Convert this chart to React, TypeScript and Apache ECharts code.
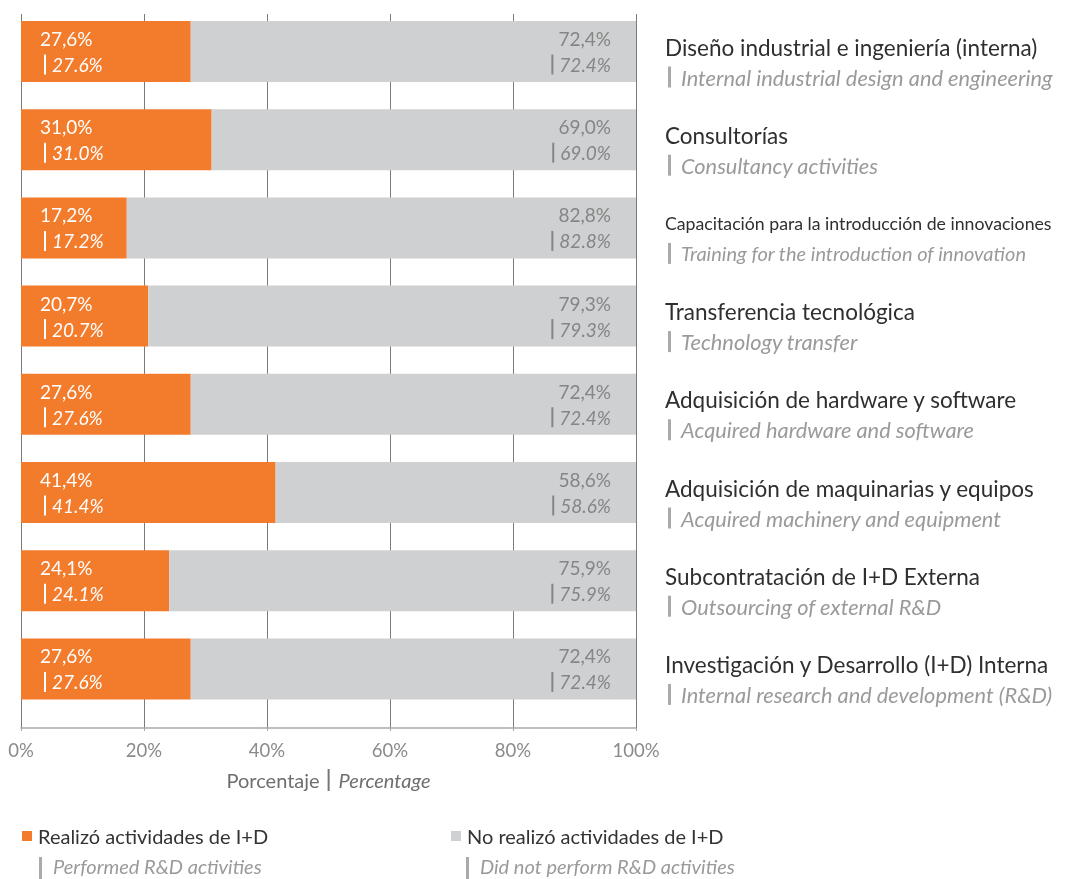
import React, { useEffect, useRef } from "react";
import * as echarts from "echarts";

const categoriesEs = [
  "Diseño industrial e ingeniería (interna)",
  "Consultorías",
  "Capacitación para la introducción de innovaciones",
  "Transferencia tecnológica",
  "Adquisición de hardware y software",
  "Adquisición de maquinarias y equipos",
  "Subcontratación de I+D Externa",
  "Investigación y Desarrollo (I+D) Interna",
];
const categoriesEn = [
  "Internal industrial design and engineering",
  "Consultancy activities",
  "Training for the introduction of innovation",
  "Technology transfer",
  "Acquired hardware and software",
  "Acquired machinery and equipment",
  "Outsourcing of external R&D",
  "Internal research and development (R&D)",
];
const performed = [27.6, 31.0, 17.2, 20.7, 27.6, 41.4, 24.1, 27.6];
const notPerformed = [72.4, 69.0, 82.8, 79.3, 72.4, 58.6, 75.9, 72.4];
const xTicks = [0, 20, 40, 60, 80, 100];
const seriesEs = ["Realizó actividades de I+D", "No realizó actividades de I+D"];
const seriesEn = ["Performed R&D activities", "Did not perform R&D activities"];

const FONT = "Lato";
const ORANGE = "#F37B2C";
const GRAY = "#CFD0D2";

const es = (v: number) => v.toFixed(1).replace(".", ",") + "%";
const en = (v: number) => v.toFixed(1) + "%";

export default function App() {
  const ref = useRef<HTMLDivElement>(null);
  useEffect(() => {
    if (!ref.current) return;
    document.body.style.margin = "0";
    document.body.style.overflow = "hidden";
    const chart = echarts.init(ref.current, undefined, { renderer: "svg" });
    const catKeys = categoriesEs.map((_, i) => String(i));
    const legendBase = {
      top: 826,
      padding: 0,
      itemWidth: 10,
      itemHeight: 10,
      itemGap: 7,
      icon: "rect",
      textStyle: { fontSize: 20, color: "#333", fontFamily: FONT, padding: [0, 0, 0, 1] },
    };
    chart.setOption({
      animation: false,
      textStyle: { fontFamily: FONT },
      grid: [
        { left: 21, right: 431, top: 14, bottom: 151 },
        { left: 21, right: 431, top: 7.4, bottom: 166 },
      ],
      xAxis: [
        {
          gridIndex: 0,
          type: "value",
          min: xTicks[0],
          max: xTicks[xTicks.length - 1],
          interval: 20,
          axisLine: { show: true, lineStyle: { color: "#a8a8a8", width: 1.5 } },
          axisTick: { show: true, length: 3, lineStyle: { color: "#a8a8a8" } },
          splitLine: { show: true, lineStyle: { color: "#7b7b7b", width: 1 } },
          axisLabel: {
            formatter: "{value}%",
            color: "#8a8a8a",
            fontSize: 18.5,
            margin: 12,
            fontFamily: FONT,
          },
          name: "{a|Porcentaje}{s| }{b|Percentage}",
          nameLocation: "middle",
          nameGap: 41,
          nameTextStyle: {
            rich: {
              a: { fontSize: 20, color: "#6e6e6e", fontFamily: FONT, padding: [0, 8, 0, 0] },
              s: { width: 2, height: 22, backgroundColor: "#777" },
              b: { fontSize: 20, color: "#6e6e6e", fontStyle: "italic", fontFamily: FONT, padding: [0, 0, 0, 9] },
            },
          },
        },
        {
          gridIndex: 1,
          type: "value",
          min: 0,
          max: 100,
          show: false,
        },
      ],
      yAxis: [
        { gridIndex: 0, type: "value", min: 0, max: 1, show: false },
        {
          gridIndex: 1,
          type: "category",
          data: catKeys,
          inverse: true,
          position: "right",
          axisLine: { show: false },
          axisTick: { show: false },
          splitLine: { show: false },
          axisLabel: {
            margin: 29,
            padding: [21, 0, 0, 0],
            align: "left",
            formatter: (v: string) => {
              const i = Number(v);
              const long = categoriesEs[i].length > 42;
              return `{${long ? "es2" : "es"}|${categoriesEs[i]}}\n{g| }{s| }{${long ? "en2" : "en"}|${categoriesEn[i]}}`;
            },
            rich: {
              es: { fontSize: 22.5, color: "#2f2f2f", lineHeight: 30, fontFamily: FONT },
              es2: { fontSize: 17.7, color: "#2f2f2f", lineHeight: 30, fontFamily: FONT },
              g: { width: 3 },
              s: { width: 3, height: 21, backgroundColor: "#aaaaaa" },
              en: {
                fontSize: 21.8,
                color: "#9a9a9a",
                fontStyle: "italic",
                lineHeight: 30,
                padding: [0, 0, 0, 10],
                fontFamily: FONT,
              },
              en2: {
                fontSize: 20,
                color: "#9a9a9a",
                fontStyle: "italic",
                lineHeight: 30,
                padding: [0, 0, 0, 10],
                fontFamily: FONT,
              },
            },
          },
        },
      ],
      legend: [
        { ...legendBase, data: [seriesEs[0]], left: 22 },
        { ...legendBase, data: [seriesEs[1]], left: 451 },
      ],
      graphic: [
        { type: "rect", left: 39, top: 857, shape: { width: 3, height: 22 }, style: { fill: "#aaa" } },
        {
          type: "text",
          left: 53,
          top: 856,
          style: { text: seriesEn[0], fontSize: 20, fontStyle: "italic", fill: "#9a9a9a", fontFamily: FONT },
        },
        { type: "rect", left: 466, top: 857, shape: { width: 3, height: 22 }, style: { fill: "#aaa" } },
        {
          type: "text",
          left: 480,
          top: 856,
          style: { text: seriesEn[1], fontSize: 20, fontStyle: "italic", fill: "#9a9a9a", fontFamily: FONT },
        },
      ],
      series: [
        {
          name: seriesEs[0],
          type: "bar",
          stack: "total",
          xAxisIndex: 1,
          yAxisIndex: 1,
          barWidth: 61,
          data: performed,
          itemStyle: { color: ORANGE },
          label: {
            show: true,
            position: "insideLeft",
            distance: 19,
            formatter: (p: any) => `{a|${es(p.value)}}\n{g| }{s| }{b|${en(p.value)}}`,
            rich: {
              a: { color: "#fff", fontSize: 19, lineHeight: 26, fontFamily: FONT },
              g: { width: 4 },
              s: { width: 2, height: 20, backgroundColor: "#fff" },
              b: { color: "#fff", fontSize: 19, fontStyle: "italic", lineHeight: 26, padding: [0, 0, 0, 6], fontFamily: FONT },
            },
          },
        },
        {
          name: seriesEs[1],
          type: "bar",
          stack: "total",
          xAxisIndex: 1,
          yAxisIndex: 1,
          barWidth: 61,
          data: notPerformed,
          itemStyle: { color: GRAY },
          label: {
            show: true,
            position: "insideRight",
            distance: 25,
            formatter: (p: any) => `{a|${es(p.value)}}\n{s| }{b|${en(p.value)}}`,
            rich: {
              a: { color: "#858585", fontSize: 19, lineHeight: 26, fontFamily: FONT },
              s: { width: 2, height: 20, backgroundColor: "#858585" },
              b: { color: "#858585", fontSize: 19, fontStyle: "italic", lineHeight: 26, padding: [0, 0, 0, 6], fontFamily: FONT },
            },
          },
        },
      ],
    });
    return () => chart.dispose();
  }, []);
  return (
    <div
      ref={ref}
      style={{ position: "fixed", left: 0, top: 0, width: 1067, height: 879 }}
    />
  );
}
